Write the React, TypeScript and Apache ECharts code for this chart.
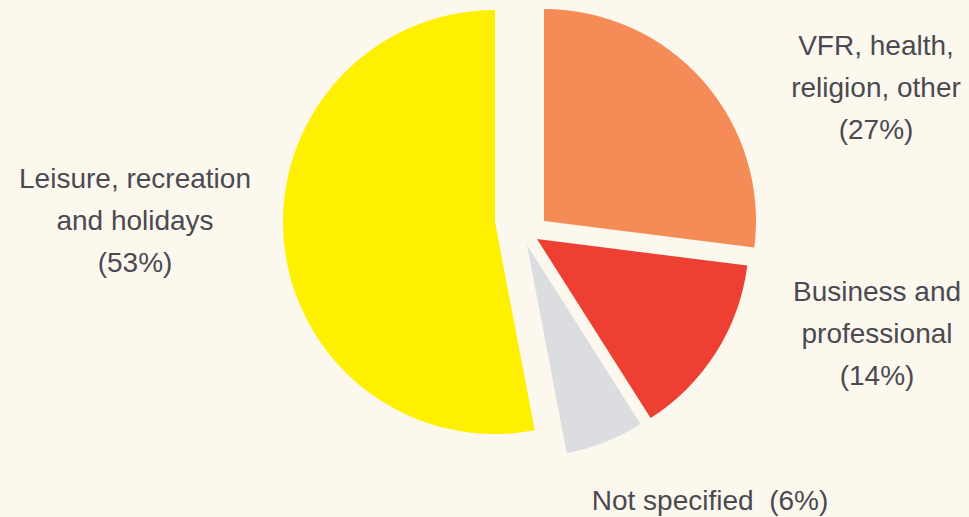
import React, { useEffect, useRef } from "react";
import * as echarts from "echarts";

const categories = [
  "VFR, health,\nreligion, other",
  "Business and\nprofessional",
  "Not specified",
  "Leisure, recreation\nand holidays",
];
const shares = [27, 14, 6, 53];
const colors = ["#F58B56", "#EE3F33", "#DCDDE0", "#FFF000"];
const separators = ["\n", "\n", "  ", "\n"];

// layout: each exploded slice has its own centre, label anchored at a fixed spot
const sliceCenters: [number, number][] = [
  [544, 221],
  [537, 239],
  [527, 245],
  [495, 222],
];
const labelSpots: [number, number][] = [
  [876, 87],
  [877, 333],
  [710, 500],
  [135, 220],
];

export default function App() {
  const ref = useRef<HTMLDivElement>(null);
  useEffect(() => {
    document.body.style.margin = "0";
    if (!ref.current) return;
    const chart = echarts.init(ref.current, undefined, { renderer: "svg" });
    const series = categories.map((_, k) => ({
      type: "pie",
      silent: true,
      center: sliceCenters[k],
      radius: 212,
      startAngle: 90,
      clockwise: true,
      avoidLabelOverlap: false,
      labelLine: { show: false },
      labelLayout: {
        x: labelSpots[k][0],
        y: labelSpots[k][1],
        align: "center",
        verticalAlign: "middle",
      },
      data: categories.map((name, i) => ({
        name,
        value: shares[i],
        itemStyle: {
          color: i === k ? colors[i] : "rgba(0,0,0,0)",
          borderWidth: 0,
        },
        label: {
          show: i === k,
          position: "outside",
          formatter: (p: any) => `${p.name}${separators[p.dataIndex]}(${p.value}%)`,
          color: "#4a4a52",
          fontFamily: "Liberation Sans, Arial, sans-serif",
          fontSize: 28,
          lineHeight: 42,
          align: "center",
        },
      })),
    }));
    chart.setOption({
      animation: false,
      backgroundColor: "#FDF8EE",
      series,
    });
    return () => chart.dispose();
  }, []);
  return <div ref={ref} style={{ width: 969, height: 517 }} />;
}
